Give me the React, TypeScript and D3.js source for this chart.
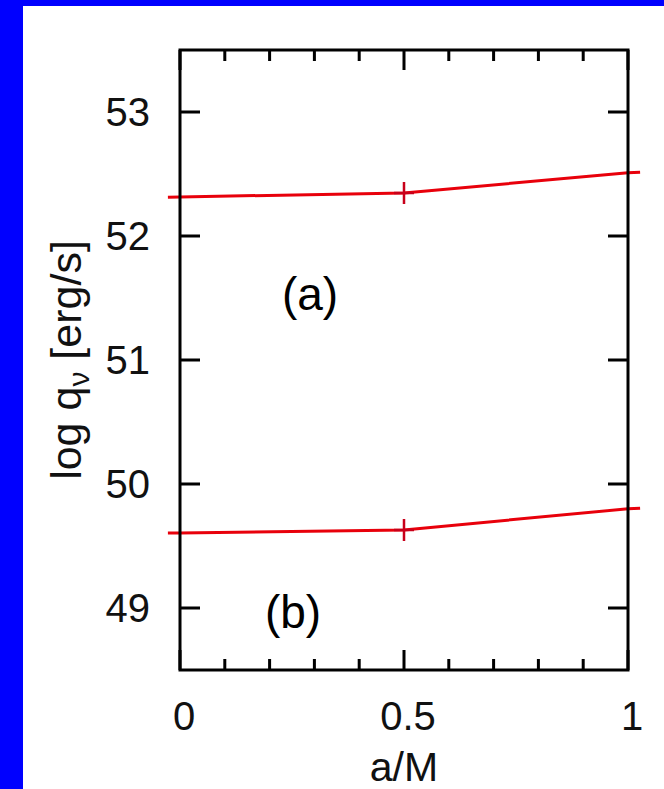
import * as d3 from "d3";
import {useEffect, useRef} from "react";

// spin parameter a/M (line runs a little past the frame on both sides)
const spin = [-0.027, 0, 0.5, 1, 1.027];
// log q_nu [erg/s] for the two cases
const seriesA = [52.313, 52.315, 52.347, 52.51, 52.515];
const seriesB = [49.604, 49.605, 49.63, 49.8, 49.805];
const markerSpin = [0.5];
const markerA = [52.347];
const markerB = [49.63];

const yTicks = [49, 50, 51, 52, 53];
const xMajor = [0, 0.5, 1];
const xMinor = [0.1, 0.2, 0.3, 0.4, 0.6, 0.7, 0.8, 0.9];

export default function App() {
    const ref = useRef<SVGSVGElement>(null);

    useEffect(() => {
        const width = 664;
        const height = 789;
        const svg = d3.select(ref.current);
        svg.selectAll("*").remove();
        svg.attr("width", width).attr("height", height);

        const font = "'Liberation Sans', Arial, sans-serif";

        // blue slide border and white panel
        svg.append("rect").attr("width", width).attr("height", height).attr("fill", "#0000ff");
        svg.append("rect").attr("x", 23).attr("y", 6).attr("width", width - 23).attr("height", height - 6).attr("fill", "#fff");

        const left = 180, right = 628, top = 50, bottom = 670;
        const x = d3.scaleLinear().domain([0, 1]).range([left, right]);
        const y = d3.scaleLinear().domain([48.5, 53.5]).range([bottom, top]);

        const g = svg.append("g");

        // red curves
        const line = d3.line<number>().x((_, i) => x(spin[i])).y(d => y(d));
        [seriesA, seriesB].forEach(s => {
            g.append("path").datum(s).attr("d", line).attr("fill", "none")
                .attr("stroke", "#e8000b").attr("stroke-width", 3);
        });

        // "+" markers
        [[markerSpin, markerA], [markerSpin, markerB]].forEach(([xs, ys]) => {
            xs.forEach((v, i) => {
                const cx = x(v), cy = y(ys[i]);
                g.append("path")
                    .attr("d", `M${cx - 10},${cy}H${cx + 10}M${cx},${cy - 11}V${cy + 11}`)
                    .attr("stroke", "#c8001a").attr("stroke-width", 2.5);
            });
        });

        // frame
        g.append("rect").attr("x", left).attr("y", top).attr("width", right - left).attr("height", bottom - top)
            .attr("fill", "none").attr("stroke", "#000").attr("stroke-width", 3);

        // ticks
        const tick = (d: string) => g.append("path").attr("d", d).attr("stroke", "#000").attr("stroke-width", 3);
        xMinor.forEach(v => {
            tick(`M${x(v)},${bottom}V${bottom - 11}M${x(v)},${top}V${top + 11}`);
        });
        xMajor.forEach(v => {
            tick(`M${x(v)},${bottom}V${bottom - 20}M${x(v)},${top}V${top + 20}`);
        });
        yTicks.forEach(v => {
            tick(`M${left},${y(v)}H${left + 20}M${right},${y(v)}H${right - 20}`);
        });

        // tick labels
        yTicks.forEach(v => {
            g.append("text").attr("x", left - 30).attr("y", y(v)).attr("dy", "0.36em")
                .attr("text-anchor", "end").attr("font-family", font).attr("font-size", 40)
                .attr("fill", "#111").text(String(v));
        });
        xMajor.forEach(v => {
            g.append("text").attr("x", x(v) + 4).attr("y", 730)
                .attr("text-anchor", "middle").attr("font-family", font).attr("font-size", 40)
                .attr("fill", "#111").text(String(v));
        });

        // axis titles
        g.append("text").attr("x", x(0.5)).attr("y", 781).attr("text-anchor", "middle")
            .attr("font-family", font).attr("font-size", 41).attr("fill", "#111").text("a/M");

        const yl = g.append("text").attr("transform", `translate(81,${(top + bottom) / 2}) rotate(-90)`)
            .attr("text-anchor", "middle").attr("font-family", font).attr("font-size", 43).attr("fill", "#111");
        yl.append("tspan").text("log q");
        yl.append("tspan").attr("font-size", 30).attr("dy", 8).text("ν");
        yl.append("tspan").attr("dy", -8).text(" [erg/s]");

        // panel labels
        g.append("text").attr("x", 310).attr("y", 310).attr("text-anchor", "middle")
            .attr("font-family", font).attr("font-size", 46).text("(a)");
        g.append("text").attr("x", 293).attr("y", 628).attr("text-anchor", "middle")
            .attr("font-family", font).attr("font-size", 46).text("(b)");
    }, []);

    return <svg ref={ref} style={{position: "absolute", left: 0, top: 0, display: "block"}}></svg>;
}
